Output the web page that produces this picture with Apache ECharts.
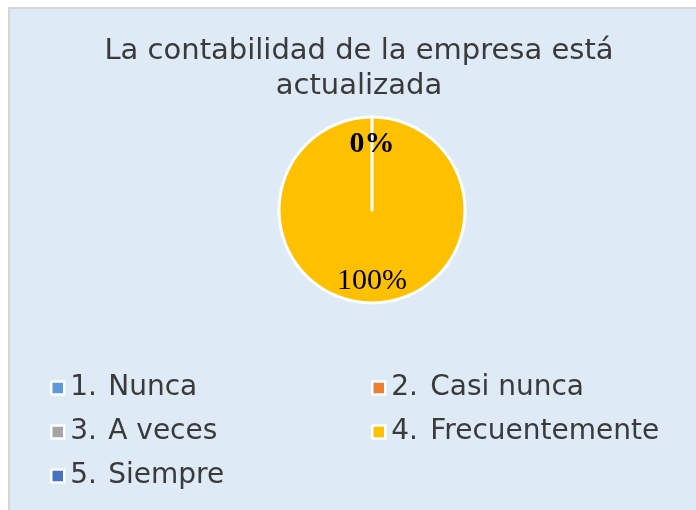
<!DOCTYPE html>
<html>
<head>
<meta charset="utf-8">
<script src="https://cdn.jsdelivr.net/npm/echarts@6/dist/echarts.min.js"></script>
<style>
  html, body { margin: 0; padding: 0; background: #fff; }
  #chart { width: 696px; height: 510px; }
</style>
</head>
<body>
<div id="chart"></div>
<script>
// datos de la encuesta
const categories = ['1. Nunca', '2. Casi nunca', '3. A veces', '4. Frecuentemente', '5. Siempre'];
const values = [0, 0, 0, 100, 0];
const colors = ['#5B9BD5', '#ED7D31', '#A5A5A5', '#FFC000', '#4472C4'];
const titleText = 'La contabilidad de la empresa está\nactualizada';

const leftColumn = [categories[0], categories[2], categories[4]];
const rightColumn = [categories[1], categories[3]];

const pieData = categories.map((name, i) => ({
    name,
    value: values[i],
    itemStyle: { color: colors[i] }
}));

const textColor = '#3A3A3A';
const uiFont = 'DejaVu Sans';

// leyenda: número + texto con tabulación
function legendItem(col, padLeft, numWidth) {
    return {
        orient: 'vertical',
        left: col,
        top: 368,
        data: col < 200 ? leftColumn : rightColumn,
        icon: 'rect',
        itemWidth: 13,
        itemHeight: 13,
        itemGap: 14,
        itemStyle: { borderColor: '#fff', borderWidth: 2.5 },
        selectedMode: false,
        formatter: name => {
            const idx = name.indexOf(' ');
            return '{n|' + name.slice(0, idx) + '}{t|' + name.slice(idx + 1) + '}';
        },
        textStyle: {
            color: textColor,
            fontFamily: uiFont,
            fontSize: 28,
            lineHeight: 30,
            rich: {
                n: { width: numWidth, padding: [0, 0, 0, padLeft], fontFamily: uiFont, fontSize: 28, lineHeight: 30, color: textColor },
                t: { fontFamily: uiFont, fontSize: 28, lineHeight: 30, color: textColor }
            }
        }
    };
}

const chart = echarts.init(document.getElementById('chart'));

chart.setOption({
    animation: false,
    backgroundColor: '#fff',
    graphic: [{
        type: 'rect',
        z: -10,
        silent: true,
        shape: { x: 9, y: 8, width: 700, height: 520 },
        style: { fill: '#DEEAF6', stroke: '#D6D6D6', lineWidth: 2 }
    }],
    title: {
        text: titleText,
        left: 354,
        textAlign: 'center',
        top: 29,
        textStyle: {
            color: textColor,
            fontFamily: uiFont,
            fontWeight: 'normal',
            fontSize: 29,
            lineHeight: 35
        }
    },
    legend: [legendItem(45, 1, 38), legendItem(366, 1, 39)],
    series: [{
        type: 'pie',
        center: [372, 210],
        radius: [0, 93],
        startAngle: 90,
        clockwise: true,
        silent: true,
        label: { show: false },
        labelLine: { show: false },
        itemStyle: { borderColor: '#fff', borderWidth: 3 },
        data: pieData
    }, {
        // capa transparente solo para las etiquetas de porcentaje
        type: 'pie',
        center: [372, 210],
        radius: [43, 93],
        startAngle: 90,
        clockwise: true,
        silent: true,
        itemStyle: { color: 'rgba(0,0,0,0)', borderWidth: 0 },
        label: {
            show: true,
            position: 'inside',
            formatter: p => p.percent === 0 ? '{z|0%}' : '{v|' + Math.round(p.percent) + '%}',
            rich: {
                z: { color: '#000', fontFamily: 'Liberation Serif', fontSize: 30, fontWeight: 'bold', padding: [10, 0, 0, 0] },
                v: { color: '#000', fontFamily: 'Liberation Serif', fontSize: 30 }
            }
        },
        labelLine: { show: false },
        data: categories.map((name, i) => ({ name, value: values[i] }))
    }]
});
</script>
</body>
</html>
